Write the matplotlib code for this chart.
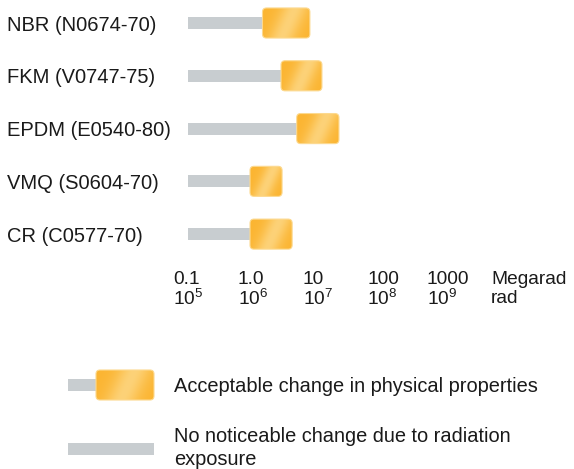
"""Radiation resistance of elastomer compounds: dose ranges per material."""

import numpy as np
import matplotlib
matplotlib.use("Agg")
import matplotlib.pyplot as plt
from matplotlib.patches import FancyBboxPatch
from matplotlib.image import BboxImage
from matplotlib.transforms import Bbox, IdentityTransform, blended_transform_factory

plt.rcParams["font.family"] = ["Liberation Sans", "DejaVu Sans"]
plt.rcParams["mathtext.fontset"] = "custom"
plt.rcParams["mathtext.rm"] = "Liberation Sans"
plt.rcParams["mathtext.default"] = "regular"

# dose in Megarad
materials = ["NBR (N0674-70)", "FKM (V0747-75)", "EPDM (E0540-80)",
             "VMQ (S0604-70)", "CR (C0577-70)"]
no_change_start = [0.1, 0.1, 0.1, 0.1, 0.1]
acceptable_start = [1.4, 2.7, 4.7, 0.9, 0.9]
acceptable_end = [7.5, 11.5, 21.0, 2.8, 4.0]

dose_ticks = [0.1, 1, 10, 100, 1000]
megarad_labels = ["0.1", "1.0", "10", "100", "1000"]
rad_labels = ["10$^5$", "10$^6$", "10$^7$", "10$^8$", "10$^9$"]

legend_labels = ["Acceptable change in physical properties",
                 "No noticeable change due to radiation\nexposure"]

GRAY = "#C8CDD0"
ORANGE = np.array([251, 181, 50]) / 255
SHINE = np.array([253, 210, 120]) / 255
TEXT = "#1a1a1a"

W, H = 574, 469
fig = plt.figure(figsize=(W / 100, H / 100), dpi=100)


def px_rect(left, top, right, bottom):
    return [left / W, 1 - bottom / H, (right - left) / W, (bottom - top) / H]


def shiny_box(ax, x0, x1, y0, y1):
    """Rounded orange box with a diagonal highlight, given in data coords."""
    (ax0, ay0), (ax1, ay1) = ax.transData.transform([(x0, y0), (x1, y1)])
    left, right = min(ax0, ax1), max(ax0, ax1)
    bot, top = min(ay0, ay1), max(ay0, ay1)
    w, h = right - left, top - bot
    nx, ny = max(int(round(w)), 2), max(int(round(h)), 2)
    jj, ii = np.meshgrid(np.arange(nx), np.arange(ny))
    s = jj - 0.45 * (ny - 1 - ii)
    s0 = 0.55 * nx - 0.45 * ny / 2
    t = np.exp(-((s - s0) / (0.28 * nx)) ** 2)[..., None]
    rgb = ORANGE * (1 - t) + SHINE * t

    patch = FancyBboxPatch((left, bot), w, h,
                           boxstyle="round,pad=0,rounding_size=4",
                           transform=IdentityTransform(),
                           fc="none", ec="#FCD98F", lw=0.8, zorder=4)
    img = BboxImage(Bbox.from_extents(left, bot, right, top), data=rgb,
                    interpolation="bilinear", zorder=3)
    img.set_clip_path(patch)
    ax.add_artist(img)
    ax.add_artist(patch)


# main chart, log dose axis
ax = fig.add_axes(px_rect(188, 0, 448, 260))
ax.set_xscale("log")
ax.set_xlim(0.1, 1000)
ax.set_ylim(4.49, -0.436)
for sp in ax.spines.values():
    sp.set_visible(False)
ax.tick_params(axis="both", length=0)
ax.set_yticks([])
ax.set_xticks(dose_ticks)
ax.set_xticks([], minor=True)
ax.set_xticklabels([f"{m}\n{r}" for m, r in zip(megarad_labels, rad_labels)],
                   fontsize=13.8, color=TEXT, multialignment="left",
                   linespacing=1.05)
ax.tick_params(axis="x", pad=8)

rows = np.arange(len(materials))
ax.barh(rows, np.array(acceptable_start) - np.array(no_change_start),
        left=no_change_start, height=0.227, color=GRAY, zorder=2)
for y, a, b in zip(rows, acceptable_start, acceptable_end):
    shiny_box(ax, a, b, y - 0.285, y + 0.285)

label_tf = blended_transform_factory(fig.transFigure, ax.transData)
for y, name in zip(rows, materials):
    ax.text(7 / W, y, name, transform=label_tf, ha="left",
            va="center_baseline", fontsize=14.5, color=TEXT)

fig.text(491 / W, 1 - 280 / H, "Megarad", ha="left", va="center",
         fontsize=13.8, color=TEXT)
fig.text(491 / W, 1 - 298 / H, "rad", ha="left", va="center",
         fontsize=13.8, color=TEXT)

# legend, drawn in pixel coords
lg = fig.add_axes([0, 0, 1, 1], zorder=-1)
lg.set_xlim(0, W)
lg.set_ylim(H, 0)
lg.axis("off")
lg.barh(385, 28, left=68, height=12, color=GRAY)
shiny_box(lg, 96, 154, 370, 400)
lg.barh(449, 86, left=68, height=12, color=GRAY)
lg.text(174, 385, legend_labels[0], ha="left", va="center_baseline",
        fontsize=14.4, color=TEXT)
lg.text(174, 448, legend_labels[1], ha="left", va="center",
        fontsize=14.4, color=TEXT, linespacing=1.3)

fig.savefig("out.png", dpi=100)
